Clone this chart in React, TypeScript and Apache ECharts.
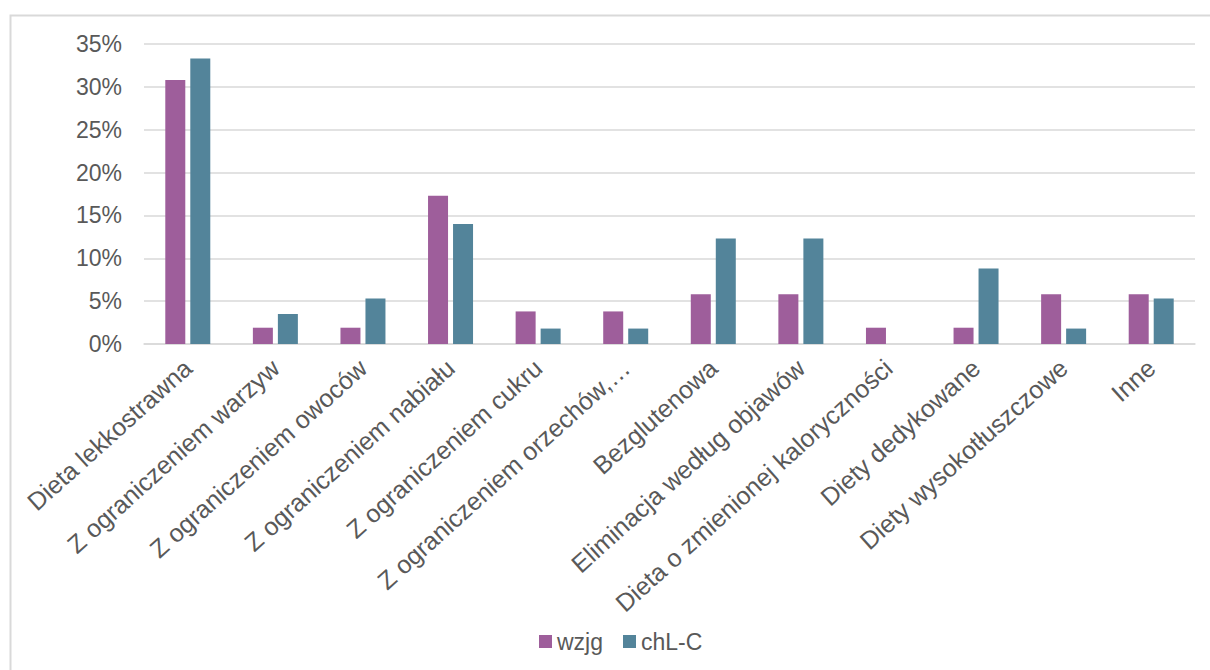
import React, { useEffect, useRef } from "react";
import * as echarts from "echarts";

// Diet categories (x axis)
const categories: string[] = [
  "Dieta lekkostrawna",
  "Z ograniczeniem warzyw",
  "Z ograniczeniem owoców",
  "Z ograniczeniem nabiału",
  "Z ograniczeniem cukru",
  "Z ograniczeniem orzechów,…",
  "Bezglutenowa",
  "Eliminacja według objawów",
  "Dieta o zmienionej kaloryczności",
  "Diety dedykowane",
  "Diety wysokotłuszczowe",
  "Inne",
];

// Share of respondents, in percent
const wzjg: number[] = [30.8, 1.9, 1.9, 17.3, 3.8, 3.8, 5.8, 5.8, 1.9, 1.9, 5.8, 5.8];
const chlc: number[] = [33.3, 3.5, 5.3, 14.0, 1.8, 1.8, 12.3, 12.3, 0, 8.8, 1.8, 5.3];

const seriesNames = ["wzjg", "chL-C"];
const seriesColors = ["#9e5e9b", "#53849a"];

const FONT = '"Liberation Sans", Arial, sans-serif';
const TEXT_COLOR = "#595959";
const GRID_COLOR = "#d9d9d9";

export default function App() {
  const ref = useRef<HTMLDivElement>(null);

  useEffect(() => {
    if (!ref.current) return;
    const chart = echarts.init(ref.current, null, { renderer: "svg" });
    chart.setOption({
      animation: false,
      backgroundColor: "#ffffff",
      textStyle: { fontFamily: FONT },
      graphic: [
        {
          type: "rect",
          left: 8,
          top: 13,
          shape: { x: 0, y: 0, width: 1300, height: 800 },
          style: { fill: "none", stroke: GRID_COLOR, lineWidth: 2 },
          silent: true,
        },
      ],
      grid: { left: 144, right: 15, top: 44, bottom: 326, containLabel: false },
      legend: {
        data: seriesNames,
        top: 625,
        left: 534,
        icon: "rect",
        itemWidth: 13,
        itemHeight: 13,
        itemGap: 20,
        textStyle: { fontFamily: FONT, fontSize: 23, color: TEXT_COLOR },
      },
      xAxis: {
        type: "category",
        data: categories,
        axisLine: { show: true, lineStyle: { color: GRID_COLOR, width: 1.5 } },
        axisTick: { show: false },
        axisLabel: {
          interval: 0,
          rotate: 42,
          margin: 20,
          fontFamily: FONT,
          fontSize: 25,
          color: TEXT_COLOR,
        },
      },
      yAxis: {
        type: "value",
        min: 0,
        max: 35,
        interval: 5,
        axisLine: { show: false },
        axisTick: { show: false },
        splitLine: { lineStyle: { color: GRID_COLOR, width: 1.5 } },
        axisLabel: {
          formatter: "{value}%",
          margin: 22,
          fontFamily: FONT,
          fontSize: 23,
          color: TEXT_COLOR,
        },
      },
      series: [
        {
          name: seriesNames[0],
          type: "bar",
          data: wzjg,
          barWidth: 20,
          barGap: "25%",
          itemStyle: { color: seriesColors[0] },
        },
        {
          name: seriesNames[1],
          type: "bar",
          data: chlc,
          barWidth: 20,
          barGap: "25%",
          itemStyle: { color: seriesColors[1] },
        },
      ],
    });
    return () => chart.dispose();
  }, []);

  return (
    <div
      ref={ref}
      style={{ position: "absolute", left: 0, top: 0, width: 1210, height: 670 }}
    />
  );
}
